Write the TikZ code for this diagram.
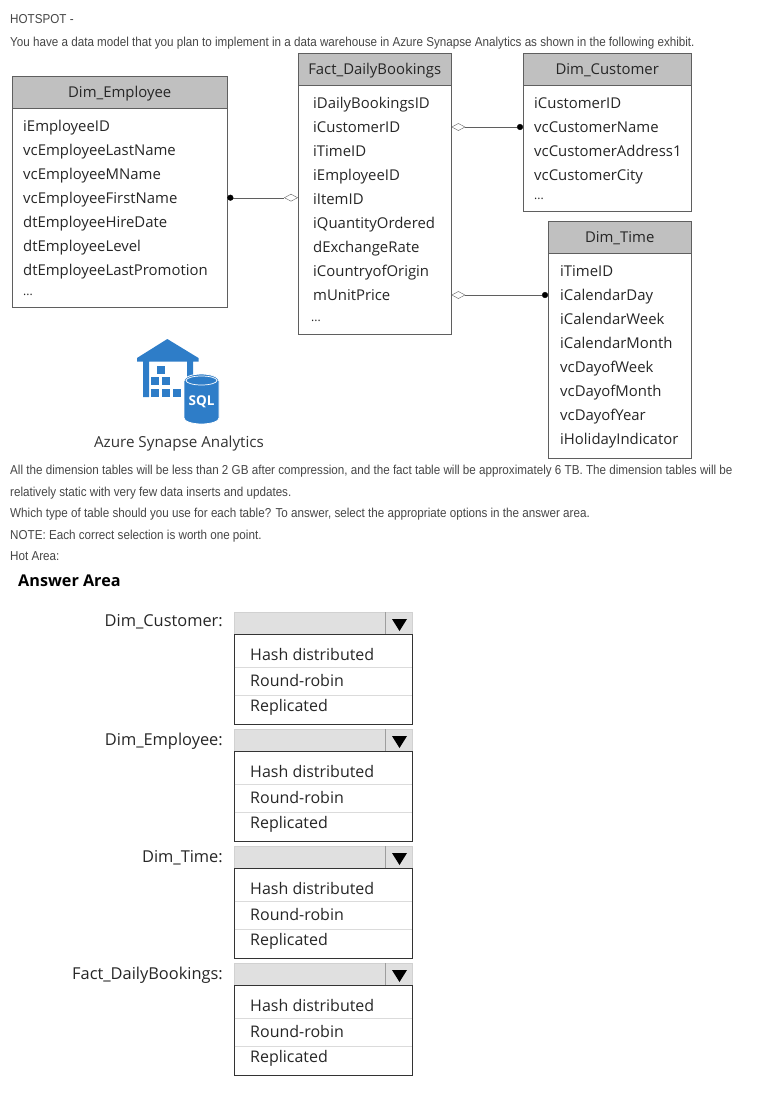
\documentclass[tikz,border=0pt]{standalone}
\usepackage{fontspec}
\setmainfont{Open Sans}
\newfontfamily\notefont[FakeStretch=0.9]{Liberation Sans}
\usetikzlibrary{arrows.meta}

\definecolor{headgray}{RGB}{192,192,192}
\definecolor{edgegray}{RGB}{95,95,95}
\definecolor{notegray}{RGB}{70,70,70}
\definecolor{dropgray}{RGB}{224,224,224}
\definecolor{azureblue}{RGB}{46,125,200}

\tikzset{
    notetext/.style={anchor=west,inner sep=0pt,text height=12pt,text depth=2.5pt,text=notegray,font=\notefont\fontsize{12.95}{15}\selectfont},
    fieldtext/.style={anchor=west,inner sep=0pt,text height=13.7pt,text depth=2.5pt,text=black!85,font=\fontsize{14.9}{18}\selectfont},
    moretext/.style={fieldtext,font=\fontsize{12}{14}\selectfont},
    tablehead/.style={draw=edgegray,fill=headgray,anchor=north west,inner sep=0pt,text height=14pt,text depth=2.5pt,text=black!85,font=\fontsize{14.9}{18}\selectfont},
    tablebody/.style={draw=edgegray,anchor=north west,inner sep=0pt},
    droptop/.style={draw=black!18,fill=dropgray,anchor=north west,inner sep=0pt,minimum width=178pt,minimum height=22pt},
    droplist/.style={draw=black!80,anchor=north west,inner sep=0pt,minimum width=178pt,minimum height=90pt},
    answertext/.style={fieldtext,text height=14.5pt,font=\fontsize{16}{19}\selectfont},
    asktext/.style={answertext,anchor=east,font=\fontsize{16.4}{19}\selectfont},
    joinline/.style={draw=edgegray},
    dottip/.tip={Circle[length=6pt,color=black]},
    diatip/.tip={Diamond[open,length=14pt,width=7.5pt]},
}

\begin{document}
\begin{tikzpicture}[x=1pt,y=-1pt]
    \useasboundingbox (0,0) rectangle (776,1098);

    % question text
    \node[notetext] (hotspot) at (10,19) {HOTSPOT -};
    \node[notetext] (intro) at (10,42) {You have a data model that you plan to implement in a data warehouse in Azure Synapse Analytics as shown in the following exhibit.};
    \node[notetext] (size1) at (10,470) {All the dimension tables will be less than 2 GB after compression, and the fact table will be approximately 6 TB. The dimension tables will be};
    \node[notetext] (size2) at (10,492) {relatively static with very few data inserts and updates.};
    \node[notetext] (which) at (10,513) {Which type of table should you use for each table? To answer, select the appropriate options in the answer area.};
    \node[notetext] (note) at (10,535) {NOTE: Each correct selection is worth one point.};
    \node[notetext] (hot) at (10,556) {Hot Area:};

    % tables
    \node[tablehead,minimum width=215pt,minimum height=32pt] (emphead) at (12,76) {Dim\_Employee};
    \node[tablebody,minimum width=215pt,minimum height=199pt] (empbody) at (12,108) {};
    \foreach \name [count=\i from 0] in {iEmployeeID,vcEmployeeLastName,vcEmployeeMName,vcEmployeeFirstName,dtEmployeeHireDate,dtEmployeeLevel,dtEmployeeLastPromotion}
        \node[fieldtext] (emp\i) at (23,126+23.9*\i) {\name};
    \node[moretext] (empmore) at (23,290) {...};

    \node[tablehead,minimum width=153pt,minimum height=32pt] (facthead) at (298,53) {Fact\_DailyBookings};
    \node[tablebody,minimum width=153pt,minimum height=249pt] (factbody) at (298,85) {};
    \foreach \name [count=\i from 0] in {iDailyBookingsID,iCustomerID,iTimeID,iEmployeeID,iItemID,iQuantityOrdered,dExchangeRate,iCountryofOrigin,mUnitPrice}
        \node[fieldtext] (fact\i) at (313,103+24*\i) {\name};
    \node[moretext] (factmore) at (311,316) {...};

    \node[tablehead,minimum width=168pt,minimum height=32pt] (custhead) at (523,53) {Dim\_Customer};
    \node[tablebody,minimum width=168pt,minimum height=126pt] (custbody) at (523,85) {};
    \foreach \name [count=\i from 0] in {iCustomerID,vcCustomerName,vcCustomerAddress1,vcCustomerCity}
        \node[fieldtext] (cust\i) at (534,103+24*\i) {\name};
    \node[moretext] (custmore) at (534,194) {...};

    \node[tablehead,minimum width=143pt,minimum height=32pt] (timehead) at (548,221) {Dim\_Time};
    \node[tablebody,minimum width=143pt,minimum height=205pt] (timebody) at (548,253) {};
    \foreach \name [count=\i from 0] in {iTimeID,iCalendarDay,iCalendarWeek,iCalendarMonth,vcDayofWeek,vcDayofMonth,vcDayofYear,iHolidayIndicator}
        \node[fieldtext] (time\i) at (560,271+24*\i) {\name};

    % joins
    \draw[joinline,dottip-diatip] (empbody.east |- emp3) -- (factbody.west |- emp3);
    \draw[joinline,diatip-dottip] (factbody.east |- cust1) -- (custbody.west |- cust1);
    \draw[joinline,diatip-dottip] (factbody.east |- time1) -- (timebody.west |- time1);

    % synapse icon
    \fill[azureblue] (167.3,339) -- (198.5,358) -- (198.5,361.5) -- (193,361.5) -- (193,380) -- (187,380) -- (187,361.5) -- (149,361.5) -- (149,397) -- (143,397) -- (143,361.5) -- (137,361.5) -- (137,358) -- cycle;
    \foreach \sx/\sy in {157/374,151/385,162/385,151/396.5,162/396.5,173/396.5}
        \fill[azureblue] (\sx,\sy) rectangle +(8,-8);
    \fill[azureblue,draw=white,line width=.8pt] (184,381) -- (184,418) arc (180:0:17.5 and 6) -- (219,381) arc (0:-180:17.5 and 7) -- cycle;
    \draw[white,line width=.7pt] (201.5,380.5) ellipse (15.5 and 4.5);
    \node[inner sep=0pt,text=white,font=\bfseries\fontsize{13.5}{15}\selectfont] (sql) at (201.5,402) {SQL};
    \node[inner sep=0pt,text=black!80,font=\fontsize{15.2}{18}\selectfont] (synapse) at (179,444) {Azure Synapse Analytics};

    % answer area
    \node[anchor=west,inner sep=0pt,font=\bfseries\fontsize{16.2}{20}\selectfont] (answer) at (18,581) {Answer Area};

    \foreach \y/\ask/\lab/\pre in {612/8/Dim\_Customer:/cust,729/10/Dim\_Employee:/emp,846/10/Dim\_Time:/time,963/10/Fact\_DailyBookings:/fact} {
        \node[asktext] (\pre label) at (223,\y+\ask) {\lab};
        \node[droptop] (\pre drop) at (234,\y) {};
        \node[droplist] (\pre list) at (234,\y+22) {};
        \draw[black!38] (385,\y) -- (385,\y+22);
        \fill[black] (392,\y+7) -- (407,\y+7) -- (399.5,\y+19) -- cycle;
        \draw[black!14] (234.5,\y+55) -- (411.5,\y+55) (234.5,\y+83) -- (411.5,\y+83);
        \node[answertext] (\pre hash) at (250,\y+42) {Hash distributed};
        \node[answertext] (\pre round) at (250,\y+68) {Round-robin};
        \node[answertext] (\pre repl) at (250,\y+93) {Replicated};
    }
\end{tikzpicture}
\end{document}
